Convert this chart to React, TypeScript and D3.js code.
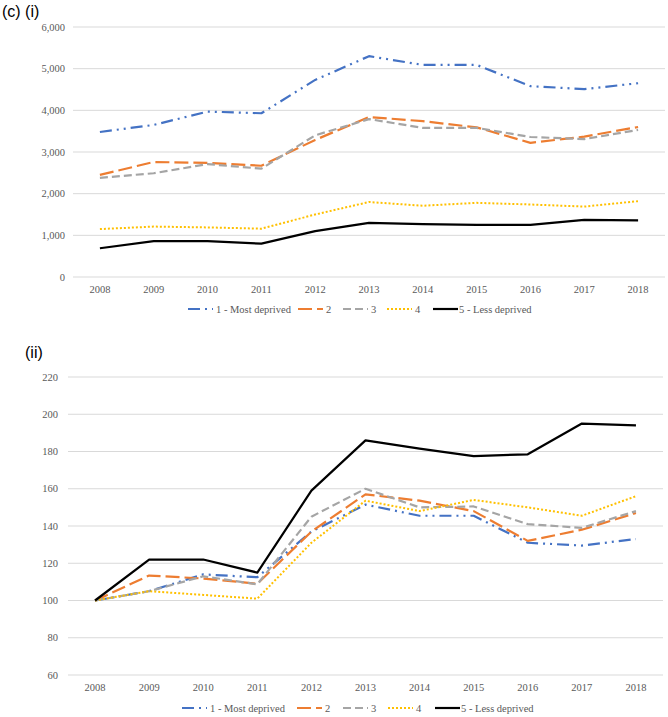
import React from "react";
import * as d3 from "d3";

const years = ["2008","2009","2010","2011","2012","2013","2014","2015","2016","2017","2018"];
const seriesNames = ["1 - Most deprived", "2", "3", "4", "5 - Less deprived"];

// Panel (i): counts
const countMost = [3480, 3650, 3970, 3930, 4730, 5300, 5090, 5090, 4580, 4510, 4650];
const count2 = [2450, 2760, 2740, 2670, 3290, 3840, 3740, 3590, 3220, 3370, 3600];
const count3 = [2380, 2490, 2710, 2600, 3400, 3790, 3580, 3580, 3360, 3310, 3530];
const count4 = [1150, 1210, 1190, 1160, 1500, 1800, 1710, 1780, 1740, 1690, 1820];
const countLess = [690, 860, 860, 800, 1100, 1300, 1270, 1250, 1250, 1370, 1360];
const countTicks = [0, 1000, 2000, 3000, 4000, 5000, 6000];

// Panel (ii): index (2008 = 100)
const indexMost = [100, 105, 114, 112.5, 137, 151.5, 145.5, 145.5, 131, 129.5, 133];
const index2 = [100, 113.4, 111.8, 109, 137, 157, 153.6, 148, 132, 138, 147];
const index3 = [100, 105, 113, 108.7, 145, 160, 150, 150.5, 141, 139, 148];
const index4 = [100, 105, 103, 101, 131, 153.6, 148, 154, 150, 145.5, 156];
const indexLess = [100, 122, 122, 115, 159, 186, 181.5, 177.5, 178.5, 195, 194];
const indexTicks = [60, 80, 100, 120, 140, 160, 180, 200, 220];

const STYLES = [
  { color: "#4472C4", dash: "12,5,2,5,2,5", width: 2.2 },
  { color: "#ED7D31", dash: "14,5", width: 2.2 },
  { color: "#A5A5A5", dash: "8,4", width: 2.2 },
  { color: "#FFC000", dash: "2,2", width: 2 },
  { color: "#000000", dash: "", width: 2.2 },
];

const SERIF = "Liberation Serif, Times New Roman, serif";
const TICK_COLOR = "#595959";
const GRID = "#d9d9d9";
// legend item offsets (sample start) relative to legend start
const LEGEND_OFFSETS_1 = [0, 110, 155, 199, 245];
const LEGEND_OFFSETS_2 = [0, 115, 161, 206, 253];

type PanelProps = {
  series: number[][];
  domain: [number, number];
  ticks: number[];
  fmt: (v: number) => string;
  x0: number; x1: number; yTop: number; yBottom: number;
  labelRight: number; yearY: number; legendY: number; legendX: number;
  legendOffsets: number[];
};

function Panel(p: PanelProps) {
  const x = d3.scaleBand<string>().domain(years).range([p.x0, p.x1]);
  const y = d3.scaleLinear().domain(p.domain).range([p.yBottom, p.yTop]);
  const line = d3.line<number>()
    .x((_, i) => (x(years[i]) as number) + x.bandwidth() / 2)
    .y((v) => y(v));
  const fontSize = 10.5;
  return (
    <g>
      {p.ticks.map((t) => (
        <g key={t}>
          <line x1={p.x0} x2={p.x1} y1={y(t)} y2={y(t)} stroke={GRID} strokeWidth={1} />
          <text x={p.labelRight} y={y(t)} dy="0.35em" textAnchor="end" fontFamily={SERIF} fontSize={fontSize} fill={TICK_COLOR}>
            {p.fmt(t)}
          </text>
        </g>
      ))}
      {years.map((yr) => (
        <text key={yr} x={(x(yr) as number) + x.bandwidth() / 2} y={p.yearY} dy="0.35em" textAnchor="middle" fontFamily={SERIF} fontSize={fontSize} fill={TICK_COLOR}>
          {yr}
        </text>
      ))}
      {p.series.map((vals, i) => (
        <path key={i} d={line(vals) || ""} fill="none" stroke={STYLES[i].color} strokeWidth={STYLES[i].width}
          strokeDasharray={STYLES[i].dash || undefined} strokeLinejoin="round" />
      ))}
      {seriesNames.map((name, i) => {
        const start = p.legendX + p.legendOffsets[i];
        return (
          <g key={name}>
            <line x1={start} x2={start + 25} y1={p.legendY} y2={p.legendY} stroke={STYLES[i].color}
              strokeWidth={STYLES[i].width} strokeDasharray={STYLES[i].dash || undefined} />
            <text x={start + (i === 4 ? 26 : 28)} y={p.legendY} dy="0.35em" fontFamily={SERIF} fontSize={fontSize} fill={TICK_COLOR}>
              {name}
            </text>
          </g>
        );
      })}
    </g>
  );
}

export default function App() {
  return (
    <svg width={668} height={717} style={{ position: "absolute", left: 0, top: 0, background: "#fff" }}>
      <text x={2} y={17} fontFamily="Liberation Sans, Arial, sans-serif" fontSize={16} fill="#000">(c) (i)</text>
      <Panel
        series={[countMost, count2, count3, count4, countLess]}
        domain={[0, 6000]} ticks={countTicks} fmt={d3.format(",")}
        x0={73} x1={665} yTop={27} yBottom={277}
        labelRight={65} yearY={289} legendY={309} legendX={188} legendOffsets={LEGEND_OFFSETS_1}
      />
      <text x={25} y={358} fontFamily="Liberation Sans, Arial, sans-serif" fontSize={16} fill="#000">(ii)</text>
      <Panel
        series={[indexMost, index2, index3, index4, indexLess]}
        domain={[60, 220]} ticks={indexTicks} fmt={d3.format("d")}
        x0={68} x1={663} yTop={377} yBottom={675}
        labelRight={58} yearY={687} legendY={708} legendX={182} legendOffsets={LEGEND_OFFSETS_2}
      />
    </svg>
  );
}
